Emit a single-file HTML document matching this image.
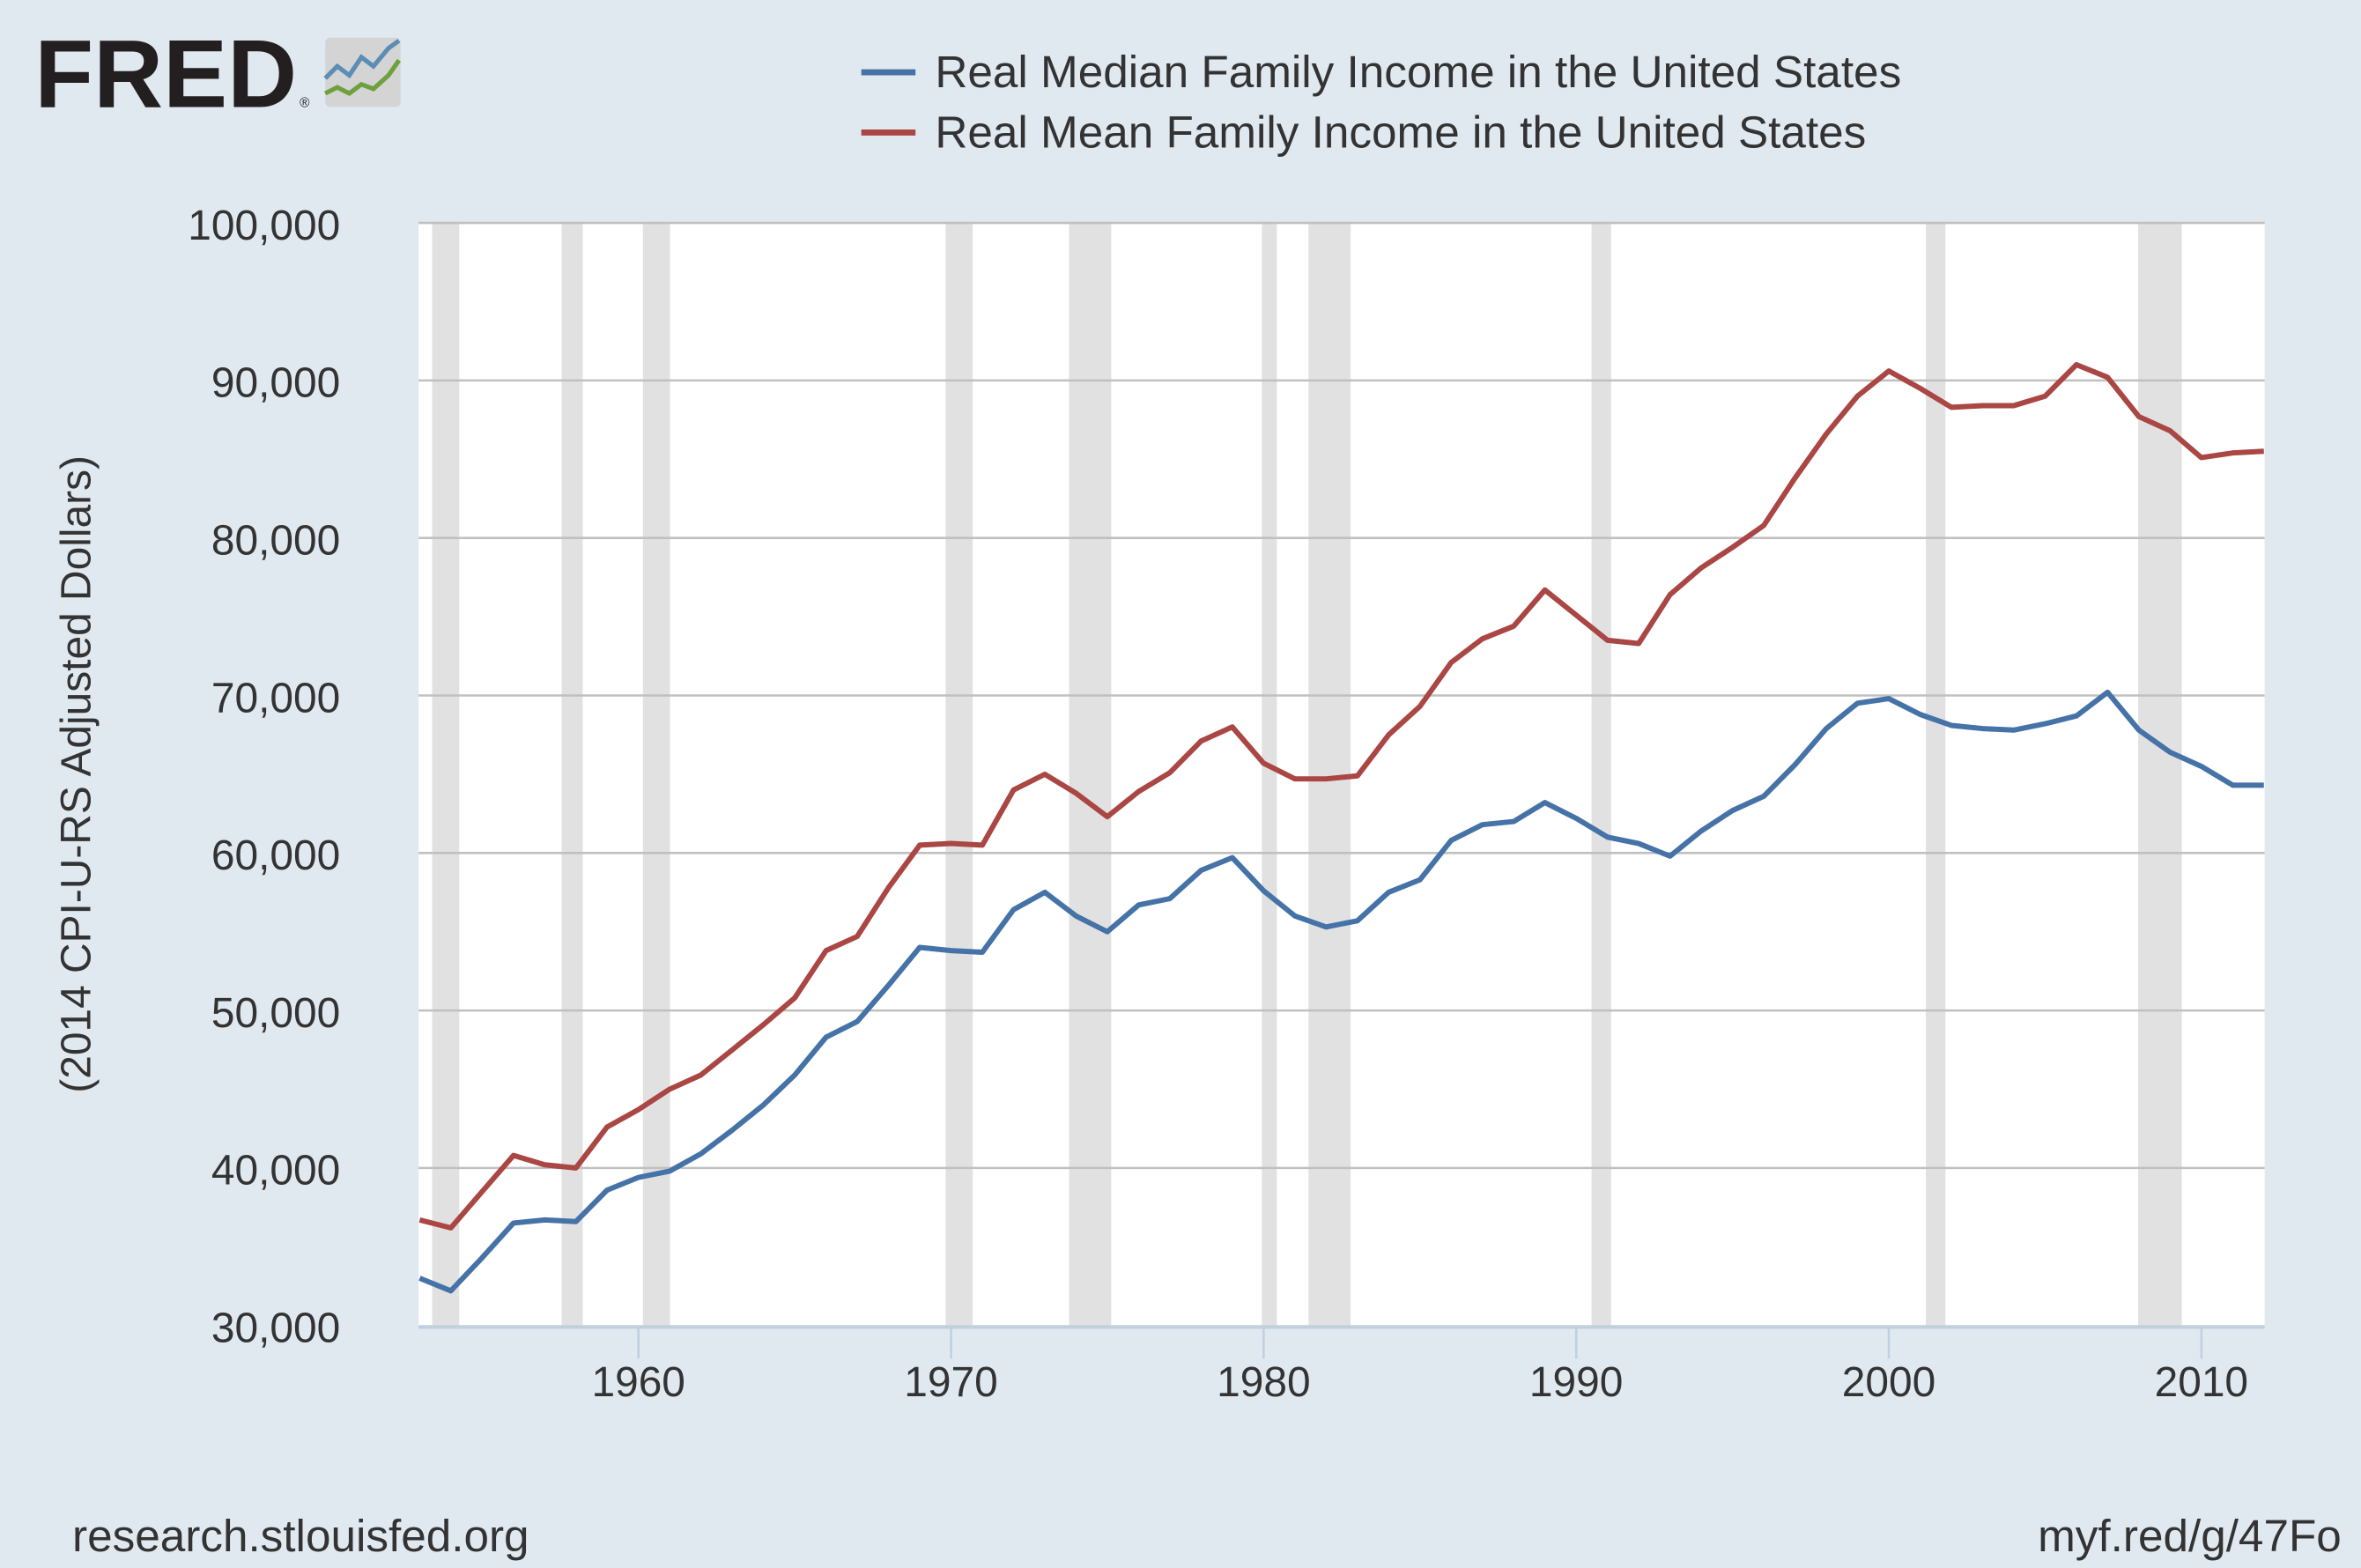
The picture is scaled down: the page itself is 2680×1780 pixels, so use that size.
<!DOCTYPE html>
<html><head><meta charset="utf-8"><style>
html,body{margin:0;padding:0;background:#e1e9f0;}
svg{display:block;}
</style></head><body>
<svg id="c" width="2680" height="1780" viewBox="0 0 1568 1041" preserveAspectRatio="none" xmlns="http://www.w3.org/2000/svg" font-family="'Liberation Sans', 'DejaVu Sans', sans-serif">
<rect width="1568" height="1041" fill="#e1e9f0"/>
<text x="23" y="71" font-size="64" font-weight="bold" fill="#231f20">FRED</text>
<text x="199" y="71" font-size="9" fill="#231f20">®</text>
<rect x="216" y="25" width="50" height="46" rx="3" fill="#d4d4d4"/>
<polyline points="216,52 224,44 232,50 240,38 248,44 258,32 265,27" fill="none" stroke="#5b8db5" stroke-width="3"/>
<polyline points="216,62 224,58 232,62 240,56 248,59 258,50 265,40" fill="none" stroke="#6ea03c" stroke-width="3"/>
<line x1="572" y1="48" x2="608" y2="48" stroke="#4572a7" stroke-width="4"/>
<text x="621" y="58" font-size="30" fill="#333">Real Median Family Income in the United States</text>
<line x1="572" y1="88" x2="608" y2="88" stroke="#aa4643" stroke-width="4"/>
<text x="621" y="98" font-size="30" fill="#333">Real Mean Family Income in the United States</text>
<rect x="278" y="148" width="1226" height="732" fill="#ffffff"/>
<g fill="#e1e1e1" id="rec"></g>
<g id="grid" stroke="#c0c0c0" stroke-width="1.5"></g>
<g id="ticks" stroke="#c0d0e0" stroke-width="1.5"></g>
<g id="yl" font-size="28" fill="#333" text-anchor="end"></g>
<g id="xl" font-size="28" fill="#333" text-anchor="middle"></g>
<line x1="278" y1="881" x2="1504" y2="881" stroke="#c0d0e0" stroke-width="2.5"/>
<text transform="translate(60,514) rotate(-90)" font-size="28" fill="#333" text-anchor="middle">(2014 CPI-U-RS Adjusted Dollars)</text>
<polyline id="mean" fill="none" stroke="#aa4643" stroke-width="3.5" stroke-linejoin="round"/>
<polyline id="med" fill="none" stroke="#4572a7" stroke-width="3.5" stroke-linejoin="round"/>
<text x="48" y="1030" font-size="30" fill="#333">research.stlouisfed.org</text>
<text x="1555" y="1030" font-size="30" fill="#333" text-anchor="end">myf.red/g/47Fo</text>
</svg>
<script>
var NS="http://www.w3.org/2000/svg";
function el(p,t,a,txt){var e=document.createElementNS(NS,t);for(var k in a)e.setAttribute(k,a[k]);if(txt)e.textContent=txt;document.getElementById(p).appendChild(e);}
var recs=[[287,305],[373,387],[427,445],[628,646],[710,738],[838,848],[869,897],[1057,1070],[1279,1292],[1420,1449]];
recs.forEach(function(r){el("rec","rect",{x:r[0],y:148,width:r[1]-r[0],height:732});});
function Y(v){return 880-(v-30)*10.457;}
function X(yr){return 424+(yr-1960)*20.76;}
for(var v=30;v<=100;v+=10){var y=Y(v);if(v>30)el("grid","line",{x1:278,y1:y,x2:1504,y2:y});el("yl","text",{x:226,y:y+11},v+",000");}
for(var yr=1960;yr<=2010;yr+=10){el("ticks","line",{x1:X(yr),y1:881,x2:X(yr),y2:902});el("xl","text",{x:X(yr),y:927},""+yr);}
var med=[33.0,32.2,34.3,36.5,36.7,36.6,38.6,39.4,39.8,40.9,42.4,44.0,45.9,48.3,49.3,51.6,54.0,53.8,53.7,56.4,57.5,56.0,55.0,56.7,57.1,58.9,59.7,57.6,56.0,55.3,55.7,57.5,58.3,60.8,61.8,62.0,63.2,62.2,61.0,60.6,59.8,61.4,62.7,63.6,65.6,67.9,69.5,69.8,68.8,68.1,67.9,67.8,68.2,68.7,70.2,67.8,66.4,65.5,64.3,64.3];
var mean=[36.7,36.2,38.5,40.8,40.2,40.0,42.6,43.7,45.0,45.9,47.5,49.1,50.8,53.8,54.7,57.8,60.5,60.6,60.5,64.0,65.0,63.8,62.3,63.9,65.1,67.1,68.0,65.7,64.7,64.7,64.9,67.5,69.3,72.1,73.6,74.4,76.7,75.1,73.5,73.3,76.4,78.1,79.4,80.8,83.8,86.6,89.0,90.6,89.5,88.3,88.4,88.4,89.0,91.0,90.2,87.7,86.8,85.1,85.4,85.5];
function pts(a){return a.map(function(v,i){var x=Math.min(X(1953+i),1504);return x.toFixed(1)+","+Y(v).toFixed(1);}).join(" ");}
document.getElementById("med").setAttribute("points",pts(med));
document.getElementById("mean").setAttribute("points",pts(mean));
</script>
</body></html>
